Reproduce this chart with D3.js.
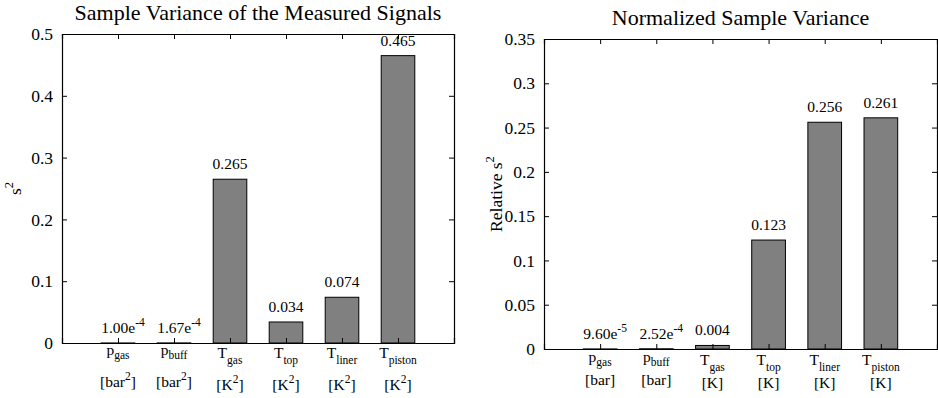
<!DOCTYPE html>
<html><head><meta charset="utf-8">
<script src="https://cdn.jsdelivr.net/npm/d3@7"></script>
<style>
html,body{margin:0;padding:0;background:#fff;}
</style></head>
<body><svg id="c" width="938" height="398"></svg>
<script>
// ---- data ----
const catMain = ["p", "p", "T", "T", "T", "T"];
const catSub = ["gas", "buff", "gas", "top", "liner", "piston"];
const unitsLeft = ["bar", "bar", "K", "K", "K", "K"];
const unitsRight = ["bar", "bar", "K", "K", "K", "K"];
const varianceValues = [1.00e-4, 1.67e-4, 0.265, 0.034, 0.074, 0.465];
const varianceLabels = ["1.00e^-4", "1.67e^-4", "0.265", "0.034", "0.074", "0.465"];
const normValues = [9.60e-5, 2.52e-4, 0.004, 0.123, 0.256, 0.261];
const normLabels = ["9.60e^-5", "2.52e^-4", "0.004", "0.123", "0.256", "0.261"];
const leftTicks = [0, 0.1, 0.2, 0.3, 0.4, 0.5];
const rightTicks = [0, 0.05, 0.1, 0.15, 0.2, 0.25, 0.3, 0.35];

const FONT = '"Liberation Serif", "Times New Roman", Times, serif';
const svg = d3.select("#c");

function txt(sel) {
  return sel.style("font-family", FONT).style("fill", "#000");
}

function drawChart(o) {
  const g = svg.append("g");
  const x = d3.scaleLinear().domain([0, 7]).range([o.x0, o.x1]);
  const y = d3.scaleLinear().domain([0, o.ymax]).range([o.y0, o.y1]);
  const bw = (x(1) - x(0)) * 0.6;
  const idx = d3.range(o.values.length);

  // bars
  g.selectAll("rect.bar").data(idx).join("rect")
    .attr("x", i => x(i + 1) - bw / 2)
    .attr("y", i => y(o.values[i]))
    .attr("width", bw)
    .attr("height", i => y(0) - y(o.values[i]))
    .attr("fill", "#808080").attr("stroke", "#000").attr("stroke-width", 1);

  // axes (box)
  const L = d3.axisLeft(y).tickValues(o.ticks).tickSize(-5).tickPadding(9).tickFormat(d3.format("~g"));
  const R = d3.axisRight(y).tickValues(o.ticks).tickSize(-5).tickFormat("");
  const B = d3.axisBottom(x).tickValues(d3.range(1, 7)).tickSize(-5).tickFormat("");
  const T = d3.axisTop(x).tickValues(d3.range(1, 7)).tickSize(-5).tickFormat("");
  const gl = g.append("g").attr("transform", `translate(${o.x0},0)`).call(L);
  g.append("g").attr("transform", `translate(${o.x1},0)`).call(R);
  g.append("g").attr("transform", `translate(0,${o.y0})`).call(B);
  g.append("g").attr("transform", `translate(0,${o.y1})`).call(T);
  g.selectAll(".domain").attr("stroke", "#000").attr("stroke-width", 1.2);
  g.selectAll(".tick line").attr("stroke", "#000");
  txt(gl.selectAll(".tick text")).style("font-size", "17.5px");

  // value labels
  idx.forEach(i => {
    const parts = o.labels[i].split("^");
    const t = txt(g.append("text"))
      .attr("x", x(i + 1) + (parts.length > 1 ? 5 : 0))
      .attr("y", y(o.values[i]) - 10)
      .attr("text-anchor", "middle").style("font-size", "15.5px");
    t.append("tspan").text(parts[0]);
    if (parts.length > 1) {
      t.append("tspan").attr("dy", -7).style("font-size", "11.5px").text(parts[1]);
    }
  });

  // category labels
  idx.forEach(i => {
    const lower = catMain[i] === catMain[i].toLowerCase();
    const shift = lower ? -2 : 1;
    const t1 = txt(g.append("text")).attr("x", x(i + 1)).attr("y", o.y0 + o.l1 + shift)
      .attr("text-anchor", "middle").style("font-size", "15.5px");
    t1.append("tspan").text(catMain[i]);
    t1.append("tspan").attr("dy", lower ? 4 : 6).style("font-size", "11.5px").text(catSub[i]);
    const t2 = txt(g.append("text")).attr("x", x(i + 1)).attr("y", o.y0 + o.l2 + shift)
      .attr("text-anchor", "middle").style("font-size", "15.5px");
    t2.append("tspan").text("[" + o.units[i]);
    if (o.unitExp) t2.append("tspan").attr("dy", -7).style("font-size", "11.5px").text(o.unitExp);
    t2.append("tspan").attr("dy", o.unitExp ? 7 : 0).text("]");
  });

  // title
  txt(g.append("text")).attr("x", (o.x0 + o.x1) / 2).attr("y", o.titleY)
    .attr("text-anchor", "middle").style("font-size", "22px").text(o.title);

  // y label
  const yl = txt(g.append("text"))
    .attr("transform", `translate(${o.ylabX},${(o.y0 + o.y1) / 2}) rotate(-90)`)
    .attr("text-anchor", "middle").style("font-size", "17.5px");
  yl.append("tspan").text(o.ylab);
  yl.append("tspan").attr("dy", -8).style("font-size", "12.5px").text("2");
}

drawChart({
  x0: 62, x1: 454, y0: 343, y1: 34, ymax: 0.5,
  values: varianceValues, labels: varianceLabels, ticks: leftTicks,
  units: unitsLeft, unitExp: "2", l1: 14, l2: 46,
  title: "Sample Variance of the Measured Signals", titleY: 20,
  ylab: "s", ylabX: 21
});
drawChart({
  x0: 544, x1: 937, y0: 349, y1: 39, ymax: 0.35,
  values: normValues, labels: normLabels, ticks: rightTicks,
  units: unitsRight, unitExp: null, l1: 15, l2: 38,
  title: "Normalized Sample Variance", titleY: 25,
  ylab: "Relative s", ylabX: 502
});
</script></body></html>
